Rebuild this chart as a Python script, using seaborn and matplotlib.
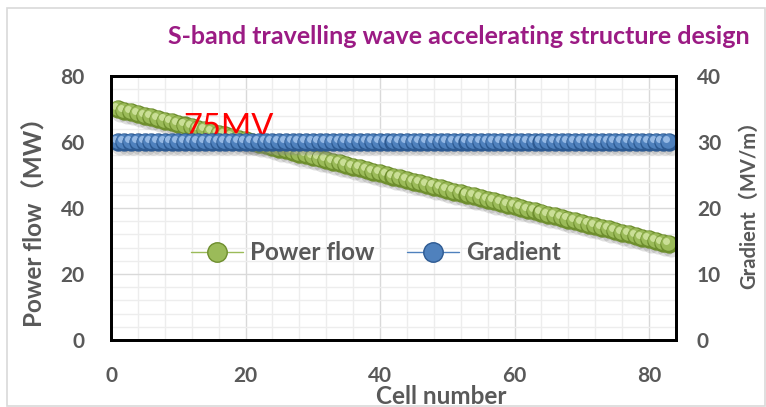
import matplotlib
matplotlib.use("Agg")
import matplotlib.pyplot as plt
import seaborn as sns
import pandas as pd
from matplotlib.lines import Line2D
from matplotlib.patches import Rectangle
from matplotlib.transforms import ScaledTranslation
from matplotlib.ticker import MultipleLocator

# ---------------- data ----------------
cells = list(range(1, 84))
power_flow = [70.0, 69.5, 69.0, 68.5, 68.0, 67.5, 67.0, 66.5, 66.0, 65.5,
              65.0, 64.5, 64.0, 63.5, 63.0, 62.5, 62.0, 61.5, 61.0, 60.5,
              60.0, 59.5, 59.0, 58.5, 58.0, 57.5, 57.0, 56.5, 56.0, 55.5,
              55.0, 54.5, 54.0, 53.5, 53.0, 52.5, 52.0, 51.5, 51.0, 50.5,
              50.0, 49.5, 49.0, 48.5, 48.0, 47.5, 47.0, 46.5, 46.0, 45.5,
              45.0, 44.5, 44.0, 43.5, 43.0, 42.5, 42.0, 41.5, 41.0, 40.5,
              40.0, 39.5, 39.0, 38.5, 38.0, 37.5, 37.0, 36.5, 36.0, 35.5,
              35.0, 34.5, 34.0, 33.5, 33.0, 32.5, 32.0, 31.5, 31.0, 30.5,
              30.0, 29.5, 29.0]
gradient = [30.0] * 83
x_ticks = [0, 20, 40, 60, 80]
left_ticks = [0, 20, 40, 60, 80]
right_ticks = [0, 10, 20, 30, 40]
title = "S-band travelling wave accelerating structure design"
annotation = "75MV"

df = pd.DataFrame({"cell": cells, "power": power_flow, "gradient": gradient})

# ---------------- style ----------------
sns.set_theme(style="white")
plt.rcParams["font.family"] = ["Lato", "Noto Sans CJK SC", "DejaVu Sans"]
TXT = "#595959"

fig = plt.figure(figsize=(7.66, 4.07), dpi=100)
fig.patches.append(Rectangle((7 / 766, 0.002), 1 - 8 / 766, 1 - 8 / 407 - 0.002,
                             transform=fig.transFigure, fill=False,
                             edgecolor="#D9D9D9", lw=1.2, zorder=0))

ax = fig.add_axes([111 / 766, 1 - 340 / 407, 565 / 766, 264 / 407])
ax2 = ax.twinx()

# thin connecting lines
sns.lineplot(data=df, x="cell", y="power", ax=ax, color="#9BBB59", lw=1, legend=False)
sns.lineplot(data=df, x="cell", y="gradient", ax=ax2, color="#4F81BD", lw=1, legend=False)

ax.set_xlim(0, 84)
ax.set_ylim(0, 80)
ax2.set_ylim(0, 40)

ax.set_xticks(x_ticks)
ax.set_yticks(left_ticks)
ax2.set_yticks(right_ticks)
ax.xaxis.set_minor_locator(MultipleLocator(4))
ax.yaxis.set_minor_locator(MultipleLocator(4))
ax.grid(True, which="major", color="#D9D9D9", lw=1)
ax.grid(True, which="minor", color="#EDEDED", lw=1)
ax.set_axisbelow(True)

for a in (ax, ax2):
    for s in a.spines.values():
        s.set_color("black")
        s.set_linewidth(2)
    a.tick_params(which="both", length=0, labelsize=15, labelcolor=TXT)
    for lab in a.get_xticklabels() + a.get_yticklabels():
        lab.set_fontweight("bold")
ax.tick_params(axis="y", pad=19)
ax.tick_params(axis="x", pad=19)
ax2.tick_params(axis="y", pad=15)
ax.set_xlabel("")
ax.set_ylabel("")
ax2.set_ylabel("")


def spheres(a, xs, ys, dark, main, light):
    sh = ScaledTranslation(1.5 / 72, -3 / 72, fig.dpi_scale_trans)
    a.plot(xs, ys, "o", ms=13, color="#808080", alpha=0.25, mec="none",
           transform=a.transData + sh)
    o1 = ScaledTranslation(-0.7 / 72, 0.7 / 72, fig.dpi_scale_trans)
    o2 = ScaledTranslation(-2.2 / 72, 2.2 / 72, fig.dpi_scale_trans)
    for xv, yv in zip(xs, ys):
        a.plot([xv], [yv], "o", ms=13.2, color=dark, mec="none")
        a.plot([xv], [yv], "o", ms=10.5, color=main, mec="none",
               transform=a.transData + o1)
        a.plot([xv], [yv], "o", ms=5, color=light, mec="none", alpha=0.85,
               transform=a.transData + o2)


spheres(ax, df["cell"], df["power"], "#6E8E2E", "#9BBB59", "#D3E6A2")
spheres(ax2, df["cell"], df["gradient"], "#2D5A92", "#4F81BD", "#A3C4EC")

ax.text(10.7, 61.5, annotation, color="#FF0000", fontsize=23.5, ha="left",
        va="baseline", zorder=10)
ax.set_zorder(1)
ax2.set_zorder(2)
ax.patch.set_visible(False)

handles = [
    Line2D([], [], color="#9BBB59", lw=1, marker="o", ms=14,
           mfc="#9BBB59", mec="#6E8E2E"),
    Line2D([], [], color="#4F81BD", lw=1, marker="o", ms=14,
           mfc="#4F81BD", mec="#2D5A92"),
]
leg = ax2.legend(handles, ["Power flow", "Gradient"], ncol=2, frameon=False,
                 loc="center", bbox_to_anchor=(0.469, 0.33), handlelength=2.15,
                 columnspacing=1.3, handletextpad=0.3,
                 prop={"weight": "bold", "size": 17.5})
for t in leg.get_texts():
    t.set_color(TXT)

fig.text(750 / 766, 1 - 37 / 407, title, color="#9B1B84", fontsize=18,
         fontweight="bold", ha="right", va="center")
fig.text(441 / 766, 1 - 396 / 407, "Cell number", color=TXT, fontsize=17.5,
         fontweight="bold", ha="center", va="center")
fig.text(35 / 766, 1 - 216 / 407, "Power flow（MW）", color=TXT, fontsize=17.5,
         fontweight="bold", ha="center", va="center", rotation=90)
fig.text(749 / 766, 1 - 200 / 407, "Gradient（MV/m）", color=TXT, fontsize=14.5,
         fontweight="bold", ha="center", va="center", rotation=90)

fig.savefig("out.png", dpi=100)
